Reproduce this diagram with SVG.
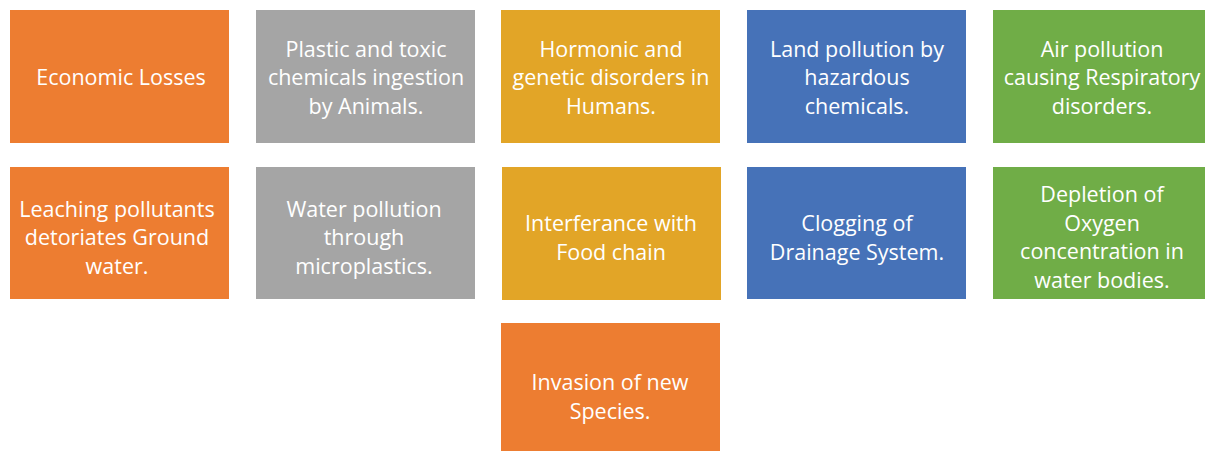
<svg xmlns="http://www.w3.org/2000/svg" width="1205" height="451" viewBox="0 0 1205 451">
  <style>
    .orange { fill: #ED7D31; }
    .gray { fill: #A5A5A5; }
    .gold { fill: #E2A527; }
    .blue { fill: #4672B8; }
    .green { fill: #70AD47; }
    text { font-family: "Open Sans", "Liberation Sans", sans-serif; font-size: 21.5px; fill: #FFFFFF; text-anchor: middle; }
  </style>
  <rect x="0" y="0" width="1205" height="451" fill="#FFFFFF"/>

  <!-- row 1 -->
  <g id="economic-losses">
    <rect class="orange" x="10" y="10" width="219" height="133"/>
    <text x="121" y="85">Economic Losses</text>
  </g>
  <g id="plastic-ingestion">
    <rect class="gray" x="256" y="10" width="219" height="133"/>
    <text x="366" y="56.5">Plastic and toxic</text>
    <text x="366" y="85">chemicals ingestion</text>
    <text x="366" y="113.5">by Animals.</text>
  </g>
  <g id="hormonic-disorders">
    <rect class="gold" x="501" y="10" width="219" height="133"/>
    <text x="611" y="56.5">Hormonic and</text>
    <text x="611" y="85">genetic disorders in</text>
    <text x="611" y="113.5">Humans.</text>
  </g>
  <g id="land-pollution">
    <rect class="blue" x="747" y="10" width="219" height="133"/>
    <text x="857" y="56.5">Land pollution by</text>
    <text x="857" y="85">hazardous</text>
    <text x="857" y="113.5">chemicals.</text>
  </g>
  <g id="air-pollution">
    <rect class="green" x="993" y="10" width="219" height="133"/>
    <text x="1102" y="56.5">Air pollution</text>
    <text x="1102" y="85">causing Respiratory</text>
    <text x="1102" y="113.5">disorders.</text>
  </g>

  <!-- row 2 -->
  <g id="leaching">
    <rect class="orange" x="10" y="167" width="219" height="132"/>
    <text x="117" y="216.5">Leaching pollutants</text>
    <text x="117" y="245">detoriates Ground</text>
    <text x="117" y="273.5">water.</text>
  </g>
  <g id="water-pollution">
    <rect class="gray" x="256" y="167" width="219" height="132"/>
    <text x="364" y="216.5">Water pollution</text>
    <text x="364" y="245">through</text>
    <text x="364" y="273.5">microplastics.</text>
  </g>
  <g id="food-chain">
    <rect class="gold" x="502" y="167" width="219" height="133"/>
    <text x="611" y="231">Interferance with</text>
    <text x="611" y="259.5">Food chain</text>
  </g>
  <g id="drainage">
    <rect class="blue" x="747" y="167" width="219" height="132"/>
    <text x="857" y="231">Clogging of</text>
    <text x="857" y="259.5">Drainage System.</text>
  </g>
  <g id="oxygen-depletion">
    <rect class="green" x="993" y="167" width="219" height="132"/>
    <text x="1102" y="202">Depletion of</text>
    <text x="1102" y="230.5">Oxygen</text>
    <text x="1102" y="259">concentration in</text>
    <text x="1102" y="288">water bodies.</text>
  </g>

  <!-- row 3 -->
  <g id="invasion">
    <rect class="orange" x="501" y="323" width="219" height="133"/>
    <text x="610" y="390">Invasion of new</text>
    <text x="610" y="418.5">Species.</text>
  </g>

  <!-- no connectors in this chart -->
  <g id="connectors"/>
</svg>
